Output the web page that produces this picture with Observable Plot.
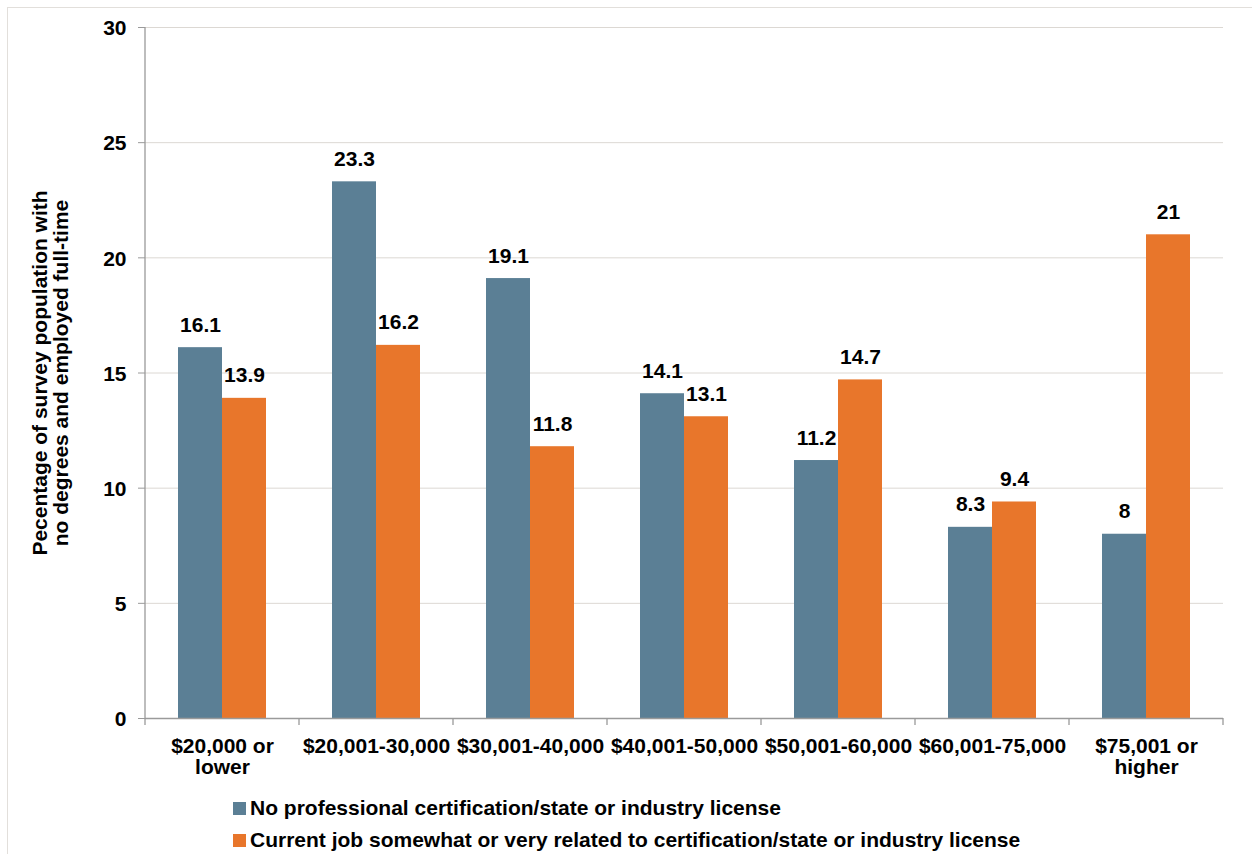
<!DOCTYPE html>
<html>
<head>
<meta charset="utf-8">
<script src="https://cdn.jsdelivr.net/npm/d3@7"></script>
<script src="https://cdn.jsdelivr.net/npm/@observablehq/plot@0.6"></script>
<style>
  html, body { margin: 0; padding: 0; background: #fff; overflow: hidden; }
  body { width: 1252px; height: 854px; position: relative; font-family: "Liberation Sans", Arial, sans-serif; }
  #frame { position: absolute; left: 7px; top: 7px; width: 1300px; height: 900px; border-left: 1px solid #e2dfdb; border-top: 1px solid #e2dfdb; box-sizing: border-box; }
  #chart { position: absolute; left: 0; top: 0; }
  #legend { position: absolute; left: 233px; top: 792px; font-size: 21px; font-weight: bold; color: #000; }
  #legend .row { display: flex; align-items: center; height: 32px; }
  #legend .sw { width: 13px; height: 13px; margin-right: 4px; }
</style>
</head>
<body>
<div id="frame"></div>
<div id="chart"></div>
<div id="legend"></div>
<script>
// Income brackets (x categories)
const categories = [
  "$20,000 or\nlower",
  "$20,001-30,000",
  "$30,001-40,000",
  "$40,001-50,000",
  "$50,001-60,000",
  "$60,001-75,000",
  "$75,001 or\nhigher"
];

// Series names
const seriesNames = [
  "No professional certification/state or industry license",
  "Current job somewhat or very related to certification/state or industry license"
];

// Series values (percent)
const noCertification = [16.1, 23.3, 19.1, 14.1, 11.2, 8.3, 8];
const relatedJob = [13.9, 16.2, 11.8, 13.1, 14.7, 9.4, 21];

// Y-axis ticks
const yTicks = [0, 5, 10, 15, 20, 25, 30];

const seriesColors = ["#5b7f95", "#e8762b"];

const yLabel = "Pecentage of survey population with\nno degrees and employed full-time";

// Long-format table for the plot
const rows = [];
categories.forEach((c, i) => {
  rows.push({category: c, series: seriesNames[0], value: noCertification[i]});
  rows.push({category: c, series: seriesNames[1], value: relatedJob[i]});
});

const fontFamily = "'Liberation Sans', Arial, sans-serif";

const chart = Plot.plot({
  width: 1252,
  height: 790,
  marginTop: 27,
  marginBottom: 72,
  marginLeft: 145,
  marginRight: 29,
  style: {fontFamily, fontSize: "21px", fontWeight: "bold", color: "#000", background: "transparent"},
  fx: {domain: categories, paddingInner: 0, paddingOuter: 0, label: null},
  x: {domain: seriesNames, paddingInner: 0, paddingOuter: 0.75, axis: null},
  y: {domain: [0, 30], label: null},
  color: {domain: seriesNames, range: seriesColors},
  marks: [
    Plot.gridY(yTicks, {stroke: "#dcd8d3", strokeOpacity: 1, strokeWidth: 1}),
    Plot.barY(rows, {fx: "category", x: "series", y: "value", fill: "series"}),
    Plot.ruleY([0], {stroke: "#9a9a9a", strokeWidth: 1.3}),
    Plot.text(rows, {
      fx: "category", x: "series", y: "value",
      text: d => String(d.value),
      lineAnchor: "bottom", dy: -16,
      fontSize: 21, fontWeight: "bold", fill: "#000"
    }),
    Plot.axisY({
      ticks: yTicks, tickSize: 7, tickPadding: 12, stroke: "#9a9a9a",
      fontSize: 21, fontWeight: "bold", fill: "#000", lineHeight: 1.15,
      label: yLabel, labelAnchor: "center", labelOffset: 113, labelArrow: "none"
    }),
    Plot.axisFx({
      anchor: "bottom", tickSize: 0, tickPadding: 19,
      fontSize: 21, fontWeight: "bold", fill: "#000", lineHeight: 1.02, label: null
    })
  ]
});

document.getElementById("chart").appendChild(chart);

// Vertical axis line and category-boundary ticks, placed with the chart's own scales
const fxScale = chart.scale("fx");
const yScale = chart.scale("y");
const band = d3.scaleBand().domain(fxScale.domain).range(fxScale.range).padding(0);
const y = d3.scaleLinear().domain(yScale.domain).range(yScale.range);
const svg = d3.select(chart);
const g = svg.append("g").attr("stroke", "#9a9a9a").attr("stroke-width", 1.3);
const x0 = band.range()[0];
g.append("line").attr("x1", x0).attr("x2", x0).attr("y1", y(30)).attr("y2", y(0));
const boundaries = fxScale.domain.map(c => band(c)).concat([band.range()[1]]);
g.selectAll("line.b").data(boundaries).join("line")
  .attr("class", "b")
  .attr("x1", d => d).attr("x2", d => d)
  .attr("y1", y(0)).attr("y2", y(0) + 7);

// Legend below the chart
const legend = d3.select("#legend");
seriesNames.forEach((name, i) => {
  const row = legend.append("div").attr("class", "row");
  row.append("div").attr("class", "sw").style("background", seriesColors[i]);
  row.append("span").text(name);
});
</script>
</body>
</html>
